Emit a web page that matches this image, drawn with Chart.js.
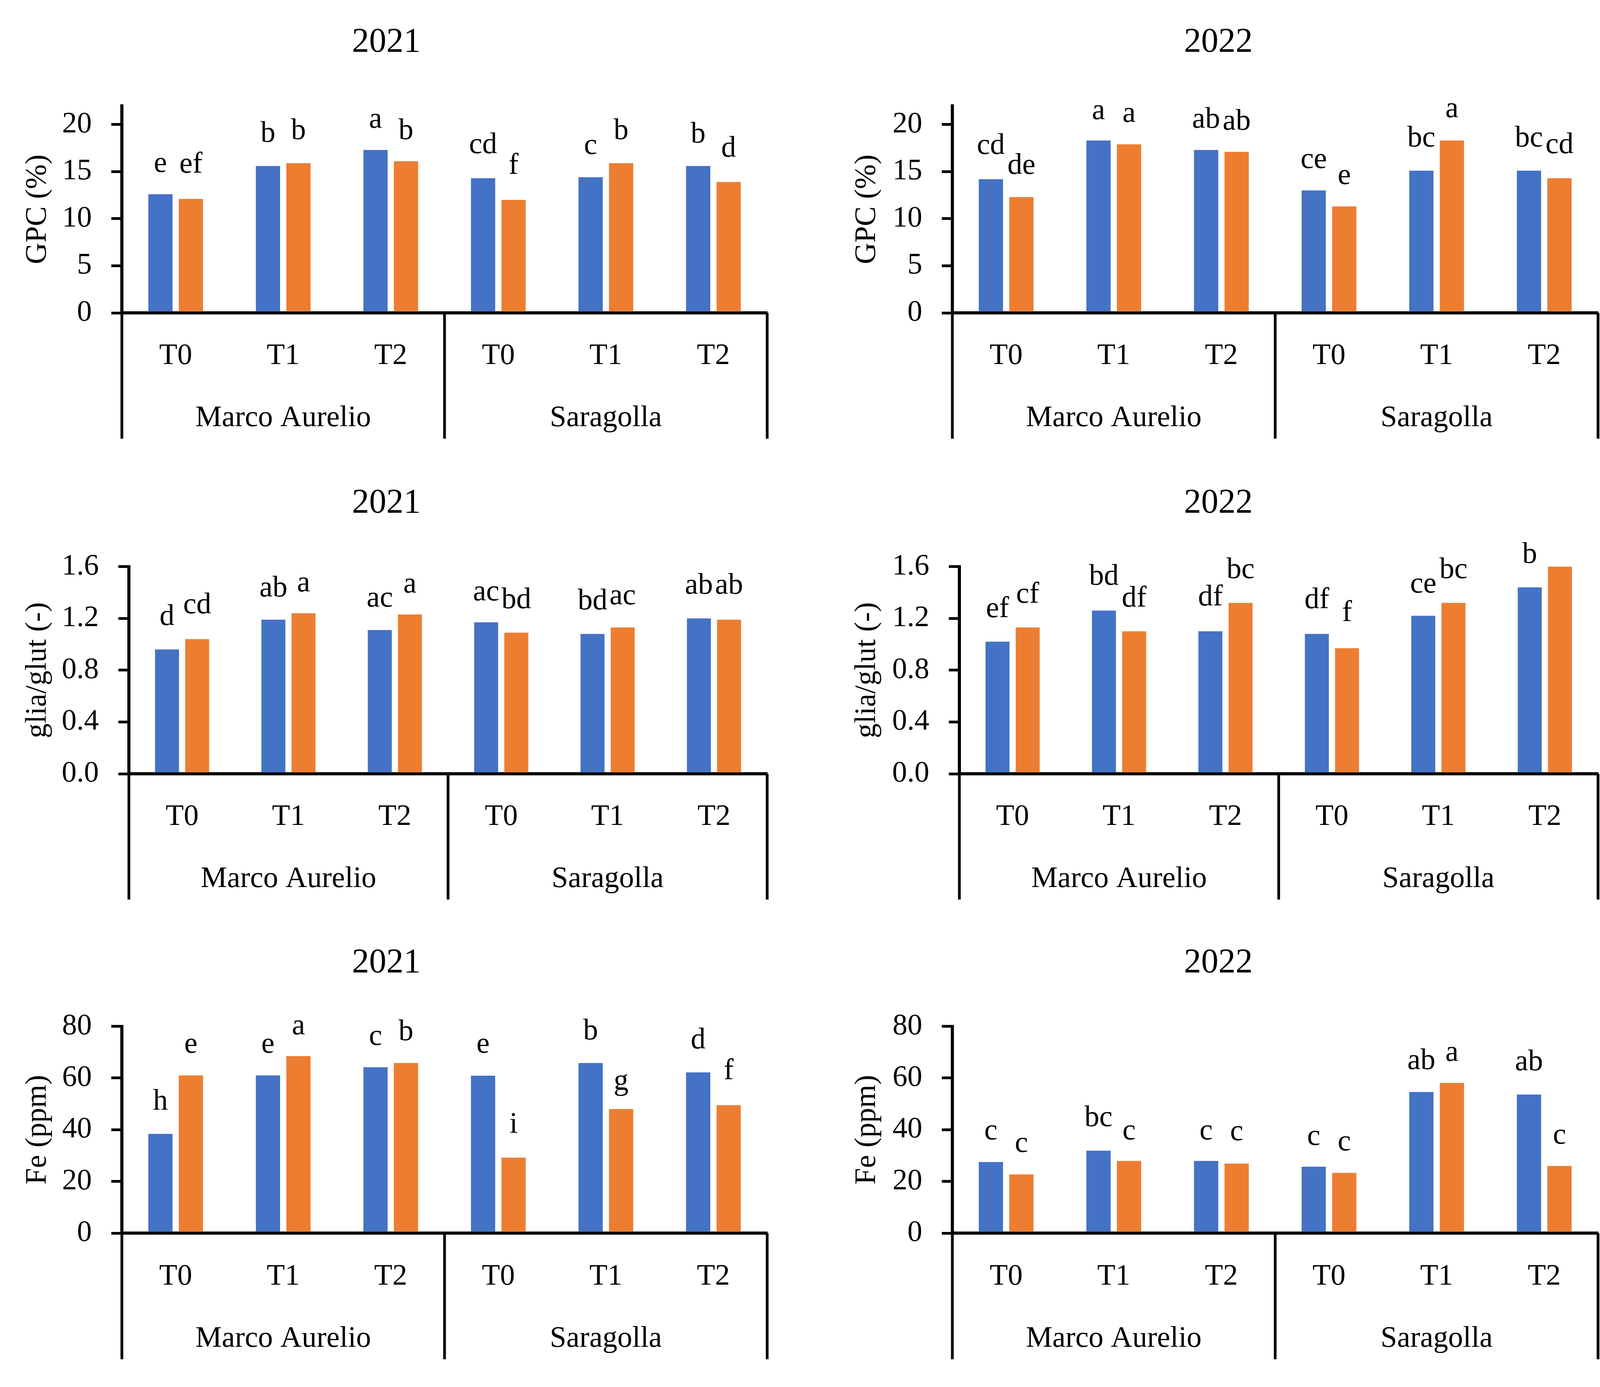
<!DOCTYPE html>
<html>
<head>
<meta charset="utf-8">
<script src="https://cdn.jsdelivr.net/npm/chart.js@4.4.1/dist/chart.umd.min.js"></script>
<style>
  html, body { margin: 0; padding: 0; background: #fff; }
  body { width: 4130px; height: 3551px; position: relative; overflow: hidden; }
  canvas { position: absolute; }
</style>
</head>
<body>
<canvas id="gpc2021" width="1978" height="1180" style="left:0px;top:0px;width:1978px;height:1180px"></canvas>
<canvas id="gpc2022" width="2065" height="1180" style="left:2065px;top:0px;width:2065px;height:1180px"></canvas>
<canvas id="glia2021" width="1978" height="1180" style="left:0px;top:1180px;width:1978px;height:1180px"></canvas>
<canvas id="glia2022" width="2065" height="1180" style="left:2065px;top:1180px;width:2065px;height:1180px"></canvas>
<canvas id="fe2021" width="1978" height="1194" style="left:0px;top:2357px;width:1978px;height:1194px"></canvas>
<canvas id="fe2022" width="2065" height="1194" style="left:2065px;top:2357px;width:2065px;height:1194px"></canvas>
<script>
const treatments = ['T0', 'T1', 'T2', 'T0', 'T1', 'T2'];
const cultivars = ['Marco Aurelio', 'Saragolla'];

// GPC (%)
const gpc2021Blue = [12.6, 15.6, 17.3, 14.3, 14.4, 15.6];
const gpc2021Orange = [12.1, 15.9, 16.1, 12.0, 15.9, 13.9];
const gpc2022Blue = [14.2, 18.3, 17.3, 13.0, 15.1, 15.1];
const gpc2022Orange = [12.3, 17.9, 17.1, 11.3, 18.3, 14.3];

// gliadin / glutenin ratio
const glia2021Blue = [0.96, 1.19, 1.11, 1.17, 1.08, 1.20];
const glia2021Orange = [1.04, 1.24, 1.23, 1.09, 1.13, 1.19];
const glia2022Blue = [1.02, 1.26, 1.10, 1.08, 1.22, 1.44];
const glia2022Orange = [1.13, 1.10, 1.32, 0.97, 1.32, 1.60];

// Fe (ppm)
const fe2021Blue = [38.4, 61.0, 64.2, 60.9, 65.8, 62.2];
const fe2021Orange = [61.0, 68.5, 65.8, 29.2, 48.0, 49.5];
const fe2022Blue = [27.5, 31.9, 27.9, 25.7, 54.6, 53.6];
const fe2022Orange = [22.7, 27.9, 26.9, 23.3, 58.1, 26.0];

// significance letters and the value they sit at
const gpc2021BlueTag = ['e', 'b', 'a', 'cd', 'c', 'b'];
const gpc2021BlueTagAt = [15.8, 19.0, 20.5, 17.8, 17.7, 18.9];
const gpc2021OrangeTag = ['ef', 'b', 'b', 'f', 'b', 'd'];
const gpc2021OrangeTagAt = [15.7, 19.3, 19.3, 15.6, 19.3, 17.4];
const gpc2022BlueTag = ['cd', 'a', 'ab', 'ce', 'bc', 'bc'];
const gpc2022BlueTagAt = [17.7, 21.4, 20.5, 16.2, 18.5, 18.5];
const gpc2022OrangeTag = ['de', 'a', 'ab', 'e', 'a', 'cd'];
const gpc2022OrangeTagAt = [15.6, 21.1, 20.3, 14.5, 21.6, 17.8];

const glia2021BlueTag = ['d', 'ab', 'ac', 'ac', 'bd', 'ab'];
const glia2021BlueTagAt = [1.21, 1.43, 1.35, 1.40, 1.33, 1.45];
const glia2021OrangeTag = ['cd', 'a', 'a', 'bd', 'ac', 'ab'];
const glia2021OrangeTagAt = [1.30, 1.47, 1.46, 1.34, 1.37, 1.45];
const glia2022BlueTag = ['ef', 'bd', 'df', 'df', 'ce', 'b'];
const glia2022BlueTagAt = [1.27, 1.52, 1.36, 1.34, 1.46, 1.69];
const glia2022OrangeTag = ['cf', 'df', 'bc', 'f', 'bc', ''];
const glia2022OrangeTagAt = [1.38, 1.35, 1.57, 1.24, 1.57, null];

const fe2021BlueTag = ['h', 'e', 'c', 'e', 'b', 'd'];
const fe2021BlueTagAt = [50.8, 72.8, 75.9, 72.8, 77.9, 74.5];
const fe2021OrangeTag = ['e', 'a', 'b', 'i', 'g', 'f'];
const fe2021OrangeTagAt = [72.8, 80.0, 77.6, 41.8, 58.5, 62.5];
const fe2022BlueTag = ['c', 'bc', 'c', 'c', 'ab', 'ab'];
const fe2022BlueTagAt = [39.3, 44.4, 39.3, 37.2, 66.5, 66.1];
const fe2022OrangeTag = ['c', 'c', 'c', 'c', 'a', 'c'];
const fe2022OrangeTagAt = [34.4, 39.3, 39.0, 35.0, 69.7, 37.6];

const FONT = 'Liberation Serif';

// draws the two-level category axis and the letters above the bars
const groupAxis = {
  id: 'groupAxis',
  afterDraw(chart) {
    const {ctx, chartArea: a, scales: {x, y}} = chart;
    const o = chart.options.plugins.groupAxis;
    const mid = (x.getPixelForValue(2) + x.getPixelForValue(3)) / 2;
    ctx.save();
    ctx.strokeStyle = '#000';
    ctx.lineWidth = 7;
    [a.left, mid, a.right].forEach(px => {
      ctx.beginPath();
      ctx.moveTo(px, a.bottom);
      ctx.lineTo(px, o.lineEnd);
      ctx.stroke();
    });
    ctx.fillStyle = '#000';
    ctx.font = `76px "${FONT}"`;
    ctx.textAlign = 'center';
    ctx.textBaseline = 'middle';
    treatments.forEach((t, i) => ctx.fillText(t, x.getPixelForValue(i), o.tickY));
    ctx.fillText(cultivars[0], (a.left + mid) / 2, o.groupY);
    ctx.fillText(cultivars[1], (mid + a.right) / 2, o.groupY);
    chart.data.datasets.forEach((ds, d) => {
      chart.getDatasetMeta(d).data.forEach((bar, i) => {
        if (ds.tags[i]) ctx.fillText(ds.tags[i], bar.x, y.getPixelForValue(ds.tagAt[i]));
      });
    });
    ctx.restore();
  }
};

const makeChart = (id, c) => new Chart(document.getElementById(id), {
  type: 'bar',
  data: {
    labels: treatments,
    datasets: [
      { data: c.blue, tags: c.blueTag, tagAt: c.blueTagAt, backgroundColor: '#4472C4',
        barPercentage: 0.795, categoryPercentage: 0.567 },
      { data: c.orange, tags: c.orangeTag, tagAt: c.orangeTagAt, backgroundColor: '#ED7D31',
        barPercentage: 0.795, categoryPercentage: 0.567 }
    ]
  },
  options: {
    responsive: false,
    animation: false,
    devicePixelRatio: 1,
    layout: { padding: { left: c.padLeft, right: c.padRight, top: 0, bottom: c.padBottom } },
    plugins: {
      legend: { display: false },
      tooltip: { enabled: false },
      title: {
        display: true,
        text: c.title,
        color: '#000',
        font: { family: FONT, size: 88, weight: 'normal' },
        padding: { top: 56, bottom: 109 }
      },
      groupAxis: { tickY: 912, groupY: 1071, lineEnd: 1123 }
    },
    scales: {
      x: {
        grid: { display: false },
        ticks: { display: false },
        border: { display: true, color: '#000', width: 8 },
        afterFit: s => { s.height = 0; }
      },
      y: {
        min: 0,
        max: c.max,
        grid: { drawOnChartArea: false, drawTicks: true, tickLength: 27, color: '#000', lineWidth: 7 },
        border: { display: true, color: '#000', width: 8 },
        ticks: {
          stepSize: c.step,
          includeBounds: false,
          padding: 50,
          color: '#000',
          font: { family: FONT, size: 76 },
          callback: v => c.decimals ? v.toFixed(c.decimals) : v
        },
        title: {
          display: true,
          text: c.yTitle,
          color: '#000',
          font: { family: FONT, size: 76 },
          padding: { top: c.titlePad, bottom: 0 }
        },
        afterFit: s => { s.width = c.axisX - c.padLeft; }
      }
    }
  },
  plugins: [groupAxis]
});

const left = { padLeft: 14, padRight: 14, titlePad: 37 };
const right = { padLeft: 82, padRight: 39, titlePad: 27 };

makeChart('gpc2021', { ...left, axisX: 312, padBottom: 379, title: '2021', yTitle: 'GPC (%)', max: 22, step: 5,
  blue: gpc2021Blue, orange: gpc2021Orange, blueTag: gpc2021BlueTag, blueTagAt: gpc2021BlueTagAt,
  orangeTag: gpc2021OrangeTag, orangeTagAt: gpc2021OrangeTagAt });
makeChart('gpc2022', { ...right, axisX: 373, padBottom: 379, title: '2022', yTitle: 'GPC (%)', max: 22, step: 5,
  blue: gpc2022Blue, orange: gpc2022Orange, blueTag: gpc2022BlueTag, blueTagAt: gpc2022BlueTagAt,
  orangeTag: gpc2022OrangeTag, orangeTagAt: gpc2022OrangeTagAt });
makeChart('glia2021', { ...left, axisX: 330, padBottom: 379, title: '2021', yTitle: 'glia/glut (-)', max: 1.6, step: 0.4, decimals: 1,
  blue: glia2021Blue, orange: glia2021Orange, blueTag: glia2021BlueTag, blueTagAt: glia2021BlueTagAt,
  orangeTag: glia2021OrangeTag, orangeTagAt: glia2021OrangeTagAt });
makeChart('glia2022', { ...right, axisX: 391, padBottom: 379, title: '2022', yTitle: 'glia/glut (-)', max: 1.6, step: 0.4, decimals: 1,
  blue: glia2022Blue, orange: glia2022Orange, blueTag: glia2022BlueTag, blueTagAt: glia2022BlueTagAt,
  orangeTag: glia2022OrangeTag, orangeTagAt: glia2022OrangeTagAt });
makeChart('fe2021', { ...left, axisX: 312, padBottom: 394, title: '2021', yTitle: 'Fe (ppm)', max: 80, step: 20,
  blue: fe2021Blue, orange: fe2021Orange, blueTag: fe2021BlueTag, blueTagAt: fe2021BlueTagAt,
  orangeTag: fe2021OrangeTag, orangeTagAt: fe2021OrangeTagAt });
makeChart('fe2022', { ...right, axisX: 373, padBottom: 394, title: '2022', yTitle: 'Fe (ppm)', max: 80, step: 20,
  blue: fe2022Blue, orange: fe2022Orange, blueTag: fe2022BlueTag, blueTagAt: fe2022BlueTagAt,
  orangeTag: fe2022OrangeTag, orangeTagAt: fe2022OrangeTagAt });
</script>
</body>
</html>
